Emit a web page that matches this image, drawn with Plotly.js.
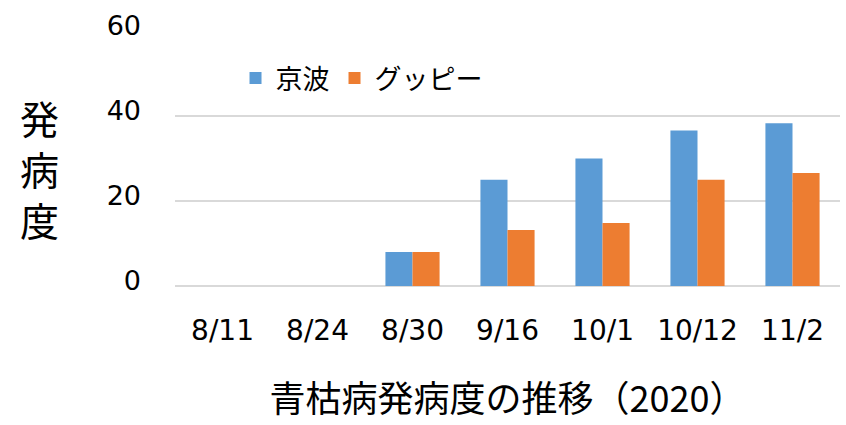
<!DOCTYPE html>
<html><head><meta charset="utf-8">
<script src="https://cdn.plot.ly/plotly-3.0.1.min.js"></script>
<style>body{margin:0;padding:0;background:#fff}#c{width:846px;height:425px}</style>
</head><body><div id="c"></div>
<script>
const categories = ["8/11","8/24","8/30","9/16","10/1","10/12","11/2"];
const kyonami = [0, 0, 8, 25, 30, 36.6, 38.3];
const guppy = [0, 0, 8, 13.2, 14.8, 25, 26.6];
const seriesNames = ["京波","グッピー"];
const yTicks = [0, 20, 40, 60];
const yTitleChars = ["発","病","度"];

const fontFam = '"DejaVu Sans", "Noto Sans CJK JP", sans-serif';
const cjkFam = '"Noto Sans CJK JP", "DejaVu Sans", sans-serif';

const traces = [
  {type:'bar', name:seriesNames[0], x:categories, y:kyonami,
   marker:{color:'#5B9BD5', line:{width:0}}},
  {type:'bar', name:seriesNames[1], x:categories, y:guppy,
   marker:{color:'#ED7D31', line:{width:0}}}
];

const titleY = [0.662, 0.463, 0.264];
const annotations = yTitleChars.map((ch, i) => ({
  text: ch, xref:'paper', yref:'paper', x:-0.2045, y:titleY[i],
  xanchor:'center', yanchor:'middle', showarrow:false,
  font:{family:cjkFam, size:39, color:'#000'}
}));

const layout = {
  width:846, height:425,
  margin:{l:175, r:6, t:31, b:139},
  paper_bgcolor:'#fff', plot_bgcolor:'#fff',
  barmode:'group', bargap:0.43, bargroupgap:0,
  font:{family:fontFam, size:28, color:'#000'},
  xaxis:{type:'category', showgrid:false, showline:false, zeroline:false,
         ticks:'', tickfont:{family:fontFam, size:28, color:'#000'}, ticklabelstandoff:25,
         title:{text:'青枯病発病度の推移（2020）', font:{family:cjkFam, size:36, color:'#000'}, standoff:40}},
  yaxis:{range:[0,60], tickvals:yTicks, showgrid:true, gridcolor:'#D9D9D9', gridwidth:1.5,
         zeroline:true, zerolinecolor:'#D9D9D9', zerolinewidth:1.5, showline:false,
         ticks:'', tickfont:{family:fontFam, size:27, color:'#000'}, ticklabelstandoff:33,
         ticklabelshift:-5},
  legend:{orientation:'h', x:0.091, y:0.814, xanchor:'left', yanchor:'middle',
          font:{family:cjkFam, size:27, color:'#000'}, bgcolor:'rgba(0,0,0,0)',
          tracegroupgap:0},
  annotations: annotations
};
Plotly.newPlot('c', traces, layout, {displayModeBar:false, staticPlot:true});
</script></body></html>
